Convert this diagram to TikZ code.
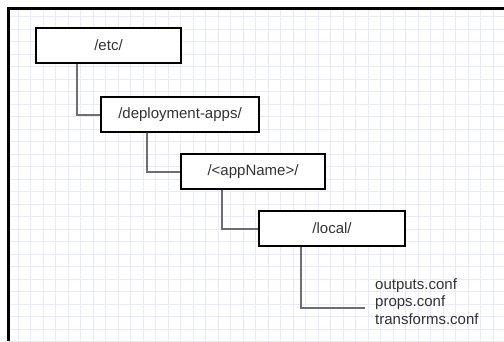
\documentclass[tikz,border=0pt]{standalone}
\usepackage{fontspec}
\setmainfont{Liberation Sans}
\definecolor{gridline}{RGB}{232,232,255}
\definecolor{boxtext}{RGB}{51,51,51}
\definecolor{linkgray}{RGB}{110,110,110}
\begin{document}
\begin{tikzpicture}[x=1pt,y=-1pt,
  dirbox/.style={draw=black,line width=1.3pt,fill=white,rectangle,
    minimum width=#1,minimum height=35pt,inner sep=0pt,
    text=boxtext,font=\fontsize{15}{18}\selectfont},
  link/.style={draw=linkgray,line width=2pt}]
  % page and frame
  \useasboundingbox (0,0) rectangle (504,341);
  \fill[white] (0,0) rectangle (504,341);
  \begin{scope}
    \clip (9,9) rectangle (504,341);
    \foreach \k in {0,...,40} {
      \draw[gridline,line width=1pt] ({5.7+12.5*\k},0) -- ({5.7+12.5*\k},341);
    }
    \foreach \k in {0,...,27} {
      \draw[gridline,line width=1pt] (0,{4.2+12.5*\k}) -- (504,{4.2+12.5*\k});
    }
  \end{scope}
  \draw[black,line width=2.7pt] (7.4,8.7) -- (504,8.7);
  \draw[black,line width=2.7pt] (8.7,7.4) -- (8.7,341);

  % directory boxes
  \node[dirbox=145pt] (etc)   at (108.5,45.5)  {/etc/};
  \node[dirbox=158pt] (dep)   at (180,114.5)   {/deployment-apps/};
  \node[dirbox=144pt] (app)   at (253,171.5)   {/<appName>/};
  \node[dirbox=146pt] (local) at (332,228.5)   {/local/};

  % file list (base anchor sits on the last line)
  \node[anchor=base west,align=left,inner sep=0pt,text=boxtext,
        font=\fontsize{15}{17.5}\selectfont] (files) at (375,324)
        {outputs.conf\\props.conf\\transforms.conf};
  \coordinate (filesend) at (365.3,308.3);

  % connectors
  \draw[link] ([xshift=41.7pt]etc.south west) |- (dep.west);
  \draw[link] ([xshift=46.7pt]dep.south west) |- (app.west);
  \draw[link] ([xshift=41.3pt]app.south west) |- (local.west);
  \draw[link] ([xshift=42.3pt]local.south west) |- (filesend);
\end{tikzpicture}
\end{document}
